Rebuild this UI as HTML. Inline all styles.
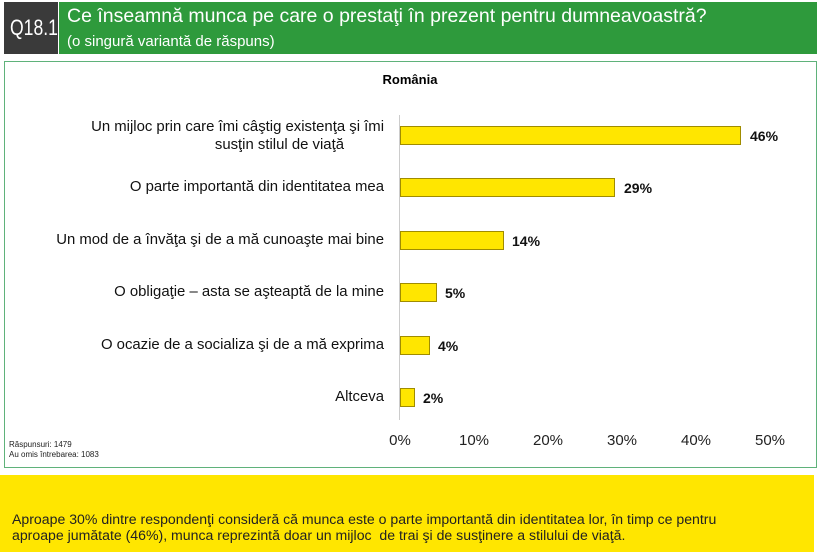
<!DOCTYPE html>
<html><head><meta charset="utf-8"><style>
body{margin:0;width:820px;height:558px;background:#fff;font-family:"Liberation Sans",sans-serif;position:relative;overflow:hidden}
div{position:absolute}
.q{left:4px;top:2px;width:54px;height:52px;background:#3a3a3a;color:#fff;font-size:22px;line-height:52px;text-align:center}
.q span{display:inline-block;transform:scaleX(0.8)}
.h{left:59px;top:2px;width:758px;height:52px;background:#2e9a3c;color:#fff}
.box{left:4px;top:61px;width:811px;height:405px;border:1px solid #5fb27a}
.lab{right:436px;font-size:14.9px;color:#111;text-align:right;line-height:18px}
.bar{left:400px;height:19px;background:#ffe600;border:1px solid #a08c00;box-sizing:border-box}
.v{font-size:14px;font-weight:bold;color:#111}
.t{top:432px;font-size:15px;color:#222;width:60px;text-align:center}
.y{left:0;top:475px;width:814px;height:77px;background:#ffe600;font-size:14.1px;color:#222}
</style></head><body>
<div class="q"><span>Q18.1</span></div>
<div class="h"><div style="left:8px;top:3px;font-size:19.5px">Ce înseamnă munca pe care o prestaţi în prezent pentru dumneavoastră?</div><div style="left:8px;top:31px;font-size:15px">(o singură variantă de răspuns)</div></div>
<div class="box"></div>
<div style="left:0;width:820px;top:72px;text-align:center;font-size:13px;font-weight:bold">România</div>
<div style="left:399px;top:115px;width:1px;height:305px;background:#ccc"></div>
<div class="lab" style="top:118px">Un mijloc prin care îmi câştig existenţa şi îmi<br><span style="margin-right:40px">susţin stilul de viaţă</span></div>
<div class="lab" style="top:178px">O parte importantă din identitatea mea</div>
<div class="lab" style="top:231px">Un mod de a învăţa şi de a mă cunoaşte mai bine</div>
<div class="lab" style="top:283px">O obligaţie – asta se aşteaptă de la mine</div>
<div class="lab" style="top:336px">O ocazie de a socializa şi de a mă exprima</div>
<div class="lab" style="top:388px">Altceva</div>
<div class="bar" style="top:126px;width:341px"></div><div class="v" style="left:750px;top:128px">46%</div>
<div class="bar" style="top:178px;width:215px"></div><div class="v" style="left:624px;top:180px">29%</div>
<div class="bar" style="top:231px;width:104px"></div><div class="v" style="left:512px;top:233px">14%</div>
<div class="bar" style="top:283px;width:37px"></div><div class="v" style="left:445px;top:285px">5%</div>
<div class="bar" style="top:336px;width:30px"></div><div class="v" style="left:438px;top:338px">4%</div>
<div class="bar" style="top:388px;width:15px"></div><div class="v" style="left:423px;top:390px">2%</div>
<div class="t" style="left:370px">0%</div><div class="t" style="left:444px">10%</div><div class="t" style="left:518px">20%</div><div class="t" style="left:592px">30%</div><div class="t" style="left:666px">40%</div><div class="t" style="left:740px">50%</div>
<div style="left:9px;top:440px;font-size:8px;color:#222;line-height:10px">Răspunsuri: 1479<br>Au omis întrebarea: 1083</div>
<div class="y"><div style="left:12px;top:36px;line-height:16px">Aproape 30% dintre respondenţi consideră că munca este o parte importantă din identitatea lor, în timp ce pentru<br>aproape jumătate (46%), munca reprezintă doar un mijloc &nbsp;de trai şi de susţinere a stilului de viaţă.</div></div>
</body></html>
